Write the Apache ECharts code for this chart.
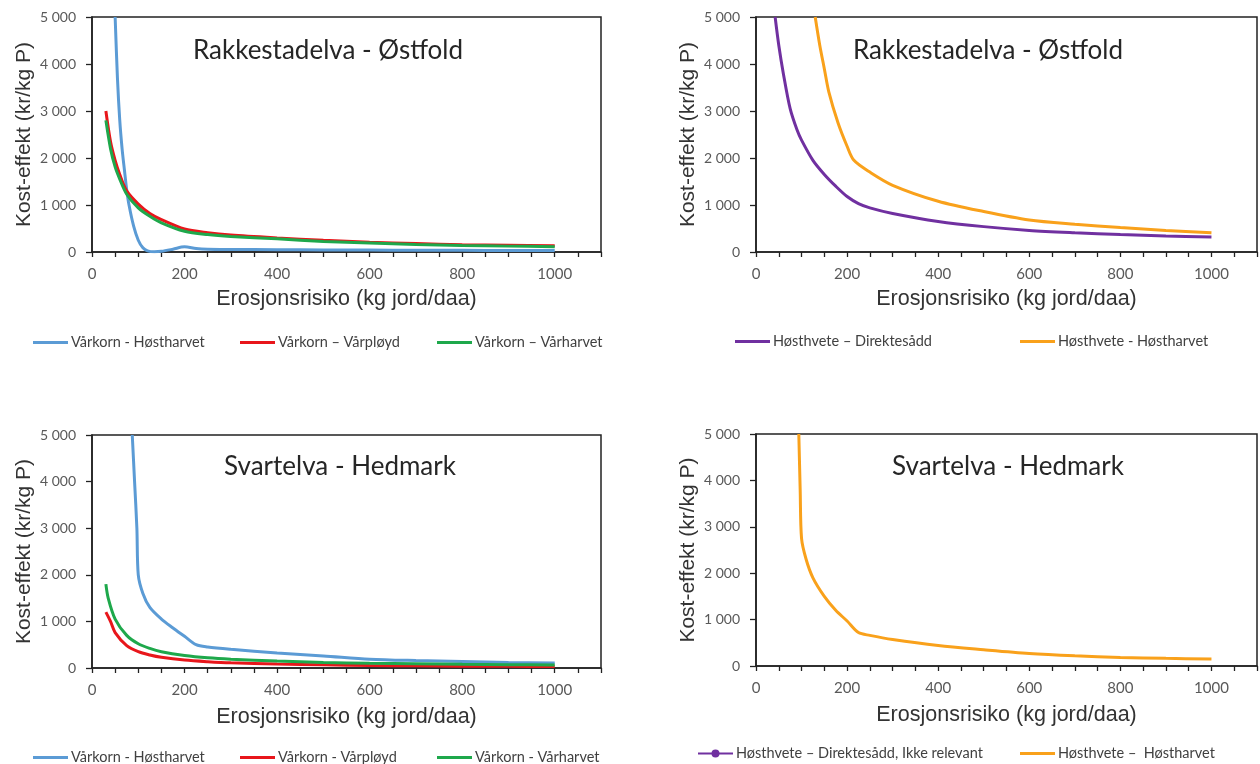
<!DOCTYPE html>
<html><head><meta charset="utf-8">
<script src="https://cdn.jsdelivr.net/npm/echarts@6/dist/echarts.min.js"></script>
<style>html,body{margin:0;padding:0;background:#fff}#c{width:1260px;height:764px}</style>
</head><body><div id="c"></div>
<script>
// ---- Data ----
// Panel 1: Rakkestadelva - Østfold (vårkorn)
const p1HostharvetX = [50, 55, 60, 65, 70, 75, 80, 90, 100, 110, 120, 135, 150, 175, 200, 225, 250, 300, 400, 500, 600, 700, 800, 900, 1000];
const p1HostharvetY = [5000, 3700, 2800, 2200, 1750, 1320, 1000, 550, 250, 90, 25, 5, 15, 60, 110, 75, 60, 55, 50, 45, 40, 37, 35, 32, 30];
const p1VarployX = [30, 40, 50, 60, 75, 100, 125, 150, 200, 250, 300, 400, 500, 600, 700, 800, 900, 1000];
const p1VarployY = [3000, 2350, 1950, 1650, 1300, 1020, 820, 690, 490, 410, 360, 300, 250, 210, 180, 155, 142, 132];
const p1VarharvetX = [30, 40, 50, 60, 75, 100, 125, 150, 200, 250, 300, 400, 500, 600, 700, 800, 900, 1000];
const p1VarharvetY = [2800, 2200, 1810, 1550, 1230, 940, 760, 620, 440, 370, 330, 280, 225, 190, 160, 138, 125, 113];
// Panel 2: Rakkestadelva - Østfold (høsthvete)
const p2DirekteX = [42, 50, 60, 75, 90, 100, 125, 150, 175, 200, 225, 250, 300, 400, 500, 600, 700, 800, 900, 1000];
const p2DirekteY = [5000, 4400, 3800, 3050, 2600, 2380, 1950, 1650, 1400, 1180, 1030, 940, 820, 650, 540, 460, 410, 370, 340, 320];
const p2HostharvetX = [130, 140, 150, 160, 180, 200, 215, 250, 300, 400, 500, 600, 700, 800, 900, 1000];
const p2HostharvetY = [5000, 4400, 3900, 3400, 2750, 2250, 1950, 1700, 1420, 1080, 860, 680, 590, 520, 460, 410];
// Panel 3: Svartelva - Hedmark (vårkorn)
const p3HostharvetX = [87, 92, 97, 100, 110, 125, 150, 175, 200, 225, 250, 300, 400, 500, 600, 700, 800, 900, 1000];
const p3HostharvetY = [5000, 4000, 3000, 2000, 1600, 1300, 1050, 860, 680, 500, 450, 400, 320, 260, 190, 160, 140, 120, 105];
const p3VarployX = [30, 40, 50, 75, 100, 125, 150, 200, 250, 300, 400, 500, 600, 700, 800, 900, 1000];
const p3VarployY = [1200, 1000, 760, 480, 350, 280, 230, 170, 135, 110, 85, 68, 55, 47, 40, 36, 32];
const p3VarharvetX = [30, 35, 50, 75, 100, 125, 150, 200, 250, 300, 400, 500, 600, 700, 800, 900, 1000];
const p3VarharvetY = [1800, 1500, 1050, 700, 520, 420, 350, 270, 220, 190, 150, 120, 100, 90, 80, 72, 65];
// Panel 4: Svartelva - Hedmark (høsthvete)
const p4DirekteX = [];
const p4DirekteY = [];
const p4HostharvetX = [94, 97, 100, 110, 125, 150, 175, 200, 225, 250, 300, 400, 500, 600, 700, 800, 900, 1000];
const p4HostharvetY = [5000, 3800, 2750, 2300, 1900, 1500, 1200, 970, 720, 660, 570, 440, 350, 270, 220, 185, 165, 150];

const titles = ['Rakkestadelva - Østfold', 'Rakkestadelva - Østfold', 'Svartelva - Hedmark', 'Svartelva - Hedmark'];
const xAxisTitle = 'Erosjonsrisiko (kg jord/daa)';
const yAxisTitle = 'Kost-effekt (kr/kg P)';

const C = {blue: '#5B9BD5', red: '#E8161B', green: '#1EA84B', purple: '#7030A0', orange: '#F9A11B'};

function pairs(xs, ys) { return xs.map((x, i) => [x, ys[i]]); }

const grids = [
  {left: 92, top: 17, width: 509, height: 235},
  {left: 756, top: 17, width: 503, height: 235},
  {left: 92, top: 435, width: 509, height: 233},
  {left: 756, top: 434, width: 503, height: 232}
];

const tickColor = '#595959';
const calibri = 'Lato, "Open Sans", sans-serif';
const arial = '"Liberation Sans", Arial, sans-serif';

function fmtY(v) { return String(v).replace(/\B(?=(\d{3})+(?!\d))/g, ' '); }

const xAxes = grids.map((g, i) => ({
  type: 'value', gridIndex: i, min: 0, max: 1100, interval: 100,
  axisLine: {show: true, lineStyle: {color: '#222', width: 1.6}},
  axisTick: {show: true, length: 5, lineStyle: {color: '#222', width: 1.3}},
  minorTick: {show: true, splitNumber: 2, length: 5, lineStyle: {color: '#222', width: 1.3}},
  splitLine: {show: false},
  axisLabel: {color: tickColor, fontSize: 15, fontFamily: calibri, margin: 15,
    formatter: v => (v % 200 === 0 && v <= 1000) ? String(v) : ''},
  name: xAxisTitle, nameLocation: 'middle', nameGap: i < 2 ? 36 : 38,
  nameTextStyle: {color: '#333', fontSize: 21.5, fontFamily: arial}
}));

const yAxes = grids.map((g, i) => ({
  type: 'value', gridIndex: i, min: 0, max: 5000, interval: 1000,
  axisLine: {show: true, lineStyle: {color: '#222', width: 1.6}},
  axisTick: {show: true, length: 6, lineStyle: {color: '#222', width: 1.3}},
  splitLine: {show: false},
  axisLabel: {color: tickColor, fontSize: 14, fontFamily: calibri, margin: 16, formatter: fmtY},
  name: yAxisTitle, nameLocation: 'middle', nameGap: 57,
  nameTextStyle: {color: '#333', fontSize: 21, fontFamily: arial}
}));

function line(name, xs, ys, color, gi, extra) {
  return Object.assign({
    name, type: 'line', xAxisIndex: gi, yAxisIndex: gi,
    data: pairs(xs, ys), smooth: 0.3, symbol: 'none', clip: true,
    lineStyle: {color, width: 3}, itemStyle: {color}
  }, extra || {});
}

const series = [
  line('Vårkorn - Høstharvet', p1HostharvetX, p1HostharvetY, C.blue, 0),
  line('Vårkorn – Vårpløyd', p1VarployX, p1VarployY, C.red, 0),
  line('Vårkorn – Vårharvet', p1VarharvetX, p1VarharvetY, C.green, 0),
  line('Høsthvete – Direktesådd', p2DirekteX, p2DirekteY, C.purple, 1),
  line('Høsthvete - Høstharvet', p2HostharvetX, p2HostharvetY, C.orange, 1),
  line('Vårkorn - Høstharvet ', p3HostharvetX, p3HostharvetY, C.blue, 2),
  line('Vårkorn - Vårpløyd', p3VarployX, p3VarployY, C.red, 2),
  line('Vårkorn - Vårharvet', p3VarharvetX, p3VarharvetY, C.green, 2),
  line('Høsthvete – Direktesådd, Ikke relevant', p4DirekteX, p4DirekteY, C.purple, 3, {symbol: 'circle', symbolSize: 7, showSymbol: true}),
  line('Høsthvete –  Høstharvet', p4HostharvetX, p4HostharvetY, C.orange, 3)
];

const legendPos = [
  ['Vårkorn - Høstharvet', 33, 335, 'rect'], ['Vårkorn – Vårpløyd', 240, 335, 'rect'], ['Vårkorn – Vårharvet', 437, 335, 'rect'],
  ['Høsthvete – Direktesådd', 735, 334, 'rect'], ['Høsthvete - Høstharvet', 1020, 334, 'rect'],
  ['Vårkorn - Høstharvet ', 33, 750, 'rect'], ['Vårkorn - Vårpløyd', 240, 750, 'rect'], ['Vårkorn - Vårharvet', 437, 750, 'rect'],
  ['Høsthvete – Direktesådd, Ikke relevant', 697, 746, null], ['Høsthvete –  Høstharvet', 1020, 746, 'rect']
];
const legends = legendPos.map(([n, l, t, icon]) => ({
  data: [icon ? {name: n, icon: icon} : {name: n}],
  left: l, top: t, itemWidth: 35, itemHeight: icon ? 3 : 10, padding: 0, itemGap: 0,
  textStyle: {color: '#404040', fontSize: 14.5, fontFamily: calibri, padding: [0, 0, 0, -2]},
  selectedMode: false
}));

const titleCenters = [[328, 38], [988, 38], [340, 454], [1008, 454]];
const titleComps = titles.map((t, i) => ({
  text: t, left: titleCenters[i][0], top: titleCenters[i][1], textAlign: 'center', padding: 0,
  textStyle: {color: '#262626', fontSize: 26, fontWeight: 'normal', fontFamily: calibri}
}));

const chart = echarts.init(document.getElementById('c'), null, {renderer: 'canvas'});
chart.setOption({
  backgroundColor: '#fff',
  animation: false,
  title: titleComps,
  legend: legends,
  grid: grids.map(g => Object.assign({show: true, borderColor: '#222', borderWidth: 1.5, backgroundColor: 'transparent'}, g)),
  xAxis: xAxes,
  yAxis: yAxes,
  series
});
</script></body></html>
